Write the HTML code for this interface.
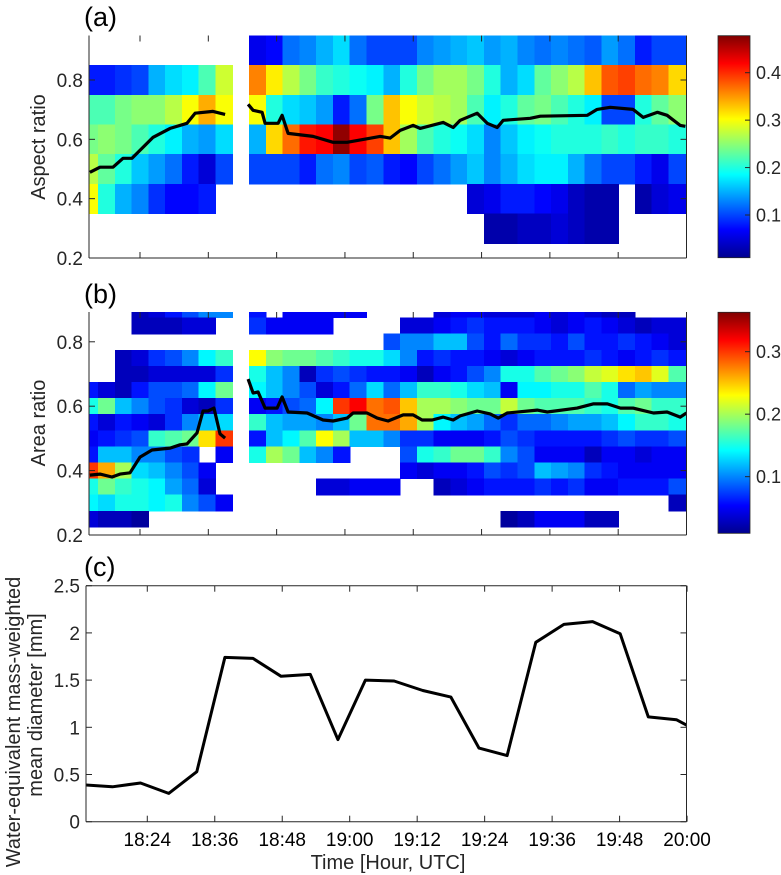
<!DOCTYPE html>
<html><head><meta charset="utf-8"><style>
html,body{margin:0;padding:0;background:#fff;}
svg{display:block;font-family:"Liberation Sans",Arial,sans-serif;}
</style></head><body>
<svg id="fig" width="781" height="875" viewBox="0 0 781 875">
<defs>
<linearGradient id="jet" x1="0" y1="1" x2="0" y2="0">
<stop offset="0" stop-color="#00008f"/><stop offset="0.125" stop-color="#0000ff"/><stop offset="0.375" stop-color="#00ffff"/><stop offset="0.625" stop-color="#ffff00"/><stop offset="0.875" stop-color="#ff0000"/><stop offset="1" stop-color="#800000"/>
</linearGradient>
<clipPath id="clipA"><rect x="89" y="35.5" width="597.5" height="222.5"/></clipPath>
<clipPath id="clipB"><rect x="89" y="312" width="597.5" height="223"/></clipPath>
<clipPath id="clipC"><rect x="86" y="585.7" width="600.5" height="236"/></clipPath>
</defs>
</svg>
<script>
// ---------- Data ----------
const binStart = 13.69, binWidth = 2.947; // minutes after 18:00
const rowsA = [0.9,0.8,0.7,0.6,0.5,0.4,0.3];
const N = null;
const heatA = [
[N,N,N,N,N,N,N,N,N,N,0.06,0.07,0.12,0.13,0.15,0.17,0.12,0.1,0.1,0.1,0.13,0.14,0.15,0.16,0.14,0.15,0.13,0.12,0.13,0.12,0.11,0.14,0.12,0.08,0.1,0.1],
[0.08,0.08,0.09,0.1,0.15,0.17,0.18,0.22,0.28,N,0.36,0.31,0.27,0.24,0.21,0.2,0.19,0.18,0.15,0.2,0.24,0.26,0.26,0.24,0.2,0.15,0.17,0.23,0.25,0.27,0.33,0.38,0.39,0.37,0.36,0.32],
[0.22,0.22,0.24,0.25,0.25,0.27,0.3,0.34,0.3,N,0.3,0.2,0.17,0.16,0.14,0.08,0.12,0.24,0.33,0.3,0.28,0.27,0.26,0.22,0.18,0.2,0.23,0.24,0.22,0.2,0.18,0.1,0.1,0.2,0.23,0.25],
[0.24,0.25,0.24,0.22,0.2,0.18,0.15,0.14,0.17,N,0.15,0.32,0.37,0.41,0.42,0.47,0.42,0.39,0.33,0.26,0.22,0.2,0.19,0.17,0.13,0.16,0.18,0.19,0.2,0.2,0.2,0.21,0.2,0.21,0.21,0.2],
[0.27,0.23,0.2,0.16,0.14,0.12,0.08,0.05,0.1,N,0.1,0.1,0.1,0.08,0.12,0.13,0.1,0.11,0.08,0.07,0.1,0.12,0.14,0.16,0.13,0.15,0.17,0.18,0.18,0.15,0.12,0.1,0.1,0.08,0.06,0.1],
[0.3,0.2,0.15,0.13,0.09,0.07,0.07,0.08,N,N,N,N,N,N,N,N,N,N,N,N,N,N,N,0.05,0.06,0.08,0.08,0.07,0.06,0.04,0.03,0.03,N,0.03,0.05,0.06],
[N,N,N,N,N,N,N,N,N,N,N,N,N,N,N,N,N,N,N,N,N,N,N,N,0.03,0.03,0.04,0.04,0.05,0.04,0.03,0.03,N,N,N,N]
];
const rowsB = [0.9,0.85,0.8,0.75,0.7,0.65,0.6,0.55,0.5,0.45,0.4,0.35,0.3,0.25,0.2];
const heatB = [
[N,N,N,0.03,0.04,0.06,0.08,0.1,0.1,N,0.06,N,0.05,0.05,0.05,0.05,0.05,N,N,N,N,0.04,0.05,0.05,0.04,0.04,0.04,0.05,0.04,0.05,0.04,0.03,0.03,N,N,N],
[N,N,N,0.03,0.03,0.03,0.04,0.04,N,N,0.07,0.05,0.05,0.05,0.05,N,N,N,N,0.04,0.04,0.05,0.06,0.07,0.06,0.06,0.06,0.05,0.04,0.05,0.06,0.05,0.04,0.03,0.04,0.04],
[N,N,N,N,N,N,N,N,N,N,N,N,N,N,N,N,N,N,0.08,0.1,0.1,0.12,0.12,0.08,0.06,0.09,0.07,0.07,0.06,0.08,0.06,0.06,0.07,0.06,0.05,0.04],
[N,N,0.03,0.04,0.07,0.08,0.1,0.14,0.16,N,0.23,0.19,0.18,0.18,0.17,0.16,0.15,0.15,0.13,0.1,0.06,0.07,0.06,0.06,0.05,0.04,0.05,0.06,0.06,0.06,0.07,0.06,0.05,0.06,0.07,0.06],
[N,N,0.03,0.03,0.04,0.04,0.04,0.04,0.07,N,0.15,0.12,0.1,0.03,0.07,0.08,0.07,0.06,0.06,0.05,0.03,0.05,0.06,0.08,0.1,0.15,0.15,0.17,0.18,0.19,0.21,0.22,0.24,0.25,0.22,0.17],
[0.06,0.04,0.03,0.06,0.08,0.08,0.09,0.14,0.18,N,0.14,0.12,0.1,0.08,0.04,0.06,0.09,0.13,0.09,0.12,0.16,0.16,0.15,0.13,0.12,0.05,0.14,0.14,0.15,0.15,0.17,0.15,0.09,0.11,0.1,0.1],
[0.15,0.18,0.12,0.1,0.08,0.07,0.04,0.03,0.07,N,0.05,0.06,0.08,0.09,0.14,0.3,0.32,0.28,0.29,0.25,0.2,0.2,0.19,0.18,0.18,0.21,0.18,0.17,0.17,0.17,0.16,0.15,0.17,0.18,0.16,0.16],
[0.06,0.04,0.06,0.05,0.04,0.07,0.1,0.12,0.13,N,0.16,0.12,0.11,0.11,0.1,0.12,0.18,0.28,0.28,0.26,0.2,0.14,0.12,0.11,0.09,0.07,0.09,0.09,0.1,0.11,0.11,0.12,0.14,0.16,0.16,0.15],
[0.05,0.06,0.07,0.08,0.16,0.17,0.18,0.24,0.3,N,0.06,0.12,0.14,0.17,0.23,0.2,0.12,0.12,0.1,0.07,0.07,0.05,0.05,0.05,0.06,0.08,0.07,0.06,0.06,0.06,0.06,0.07,0.08,0.07,0.07,0.08],
[0.06,0.12,0.12,0.1,0.1,0.08,0.07,N,0.05,N,0.15,0.2,0.18,0.12,0.1,0.06,N,N,N,0.08,0.15,0.16,0.18,0.18,0.16,0.1,0.08,0.05,0.05,0.05,0.03,0.05,0.05,0.04,0.05,0.05],
[0.3,0.26,0.2,0.13,0.12,0.1,0.08,0.05,N,N,N,N,N,N,N,N,N,N,N,0.05,0.04,0.05,0.05,0.06,0.08,0.07,0.08,0.12,0.11,0.1,0.07,0.06,0.05,0.05,0.05,0.05],
[0.15,0.18,0.16,0.15,0.14,0.11,0.09,0.04,N,N,N,N,N,N,0.04,0.04,0.05,0.05,0.05,N,N,0.03,0.04,0.05,0.06,0.06,0.06,0.07,0.06,0.07,0.05,0.05,0.06,0.06,0.06,0.08],
[0.14,0.13,0.15,0.15,0.14,0.15,0.1,0.08,0.05,N,N,N,N,N,N,N,N,N,N,N,N,N,N,N,N,N,N,N,N,N,N,N,N,N,N,0.03],
[0.04,0.03,0.03,0.02,N,N,N,N,N,N,N,N,N,N,N,N,N,N,N,N,N,N,N,N,N,0.02,0.03,0.05,0.05,0.05,0.03,0.03,N,N,N,N],
[N,N,N,N,N,N,N,N,N,N,N,N,N,N,N,N,N,N,N,N,N,N,N,N,N,N,N,N,N,N,N,N,N,N,N,N]
];
const lineATimes = [15.2,16.97,19.26,21.02,22.6,26.3,29.28,32.26,33.67,36.83,38.94,40.5,42.98,43.86,45.44,45.97,48.25,48.96,50.01,54.41,57.92,60.38,66.18,67.94,69.7,71.98,73.21,77.26,79.01,80.24,83.23,84.99,86.75,87.8,92.55,94.31,102.6,104.3,106.6,110.6,112.4,114.9,116.6,118.9,119.8];
const lineAVals = [0.489,0.506,0.506,0.536,0.536,0.607,0.637,0.654,0.688,0.694,0.684,null,0.718,0.698,0.691,0.654,0.654,0.681,0.62,0.61,0.59,0.59,0.61,0.604,0.63,0.647,0.637,0.657,0.64,0.664,0.688,0.654,0.64,0.664,0.671,0.678,0.681,0.701,0.708,0.701,0.674,0.691,0.681,0.647,0.644];
const lineBTimes = [15.2,16.97,19.08,20.49,22.25,24.0,26.11,29.28,31.03,32.26,34.02,35.06,35.95,37.0,38.06,38.94,40.5,42.98,43.86,44.74,45.97,48.08,48.96,50.01,53.35,56.16,57.92,60.38,61.44,63.9,65.66,67.59,70.23,71.98,73.56,75.32,77.26,79.01,80.24,83.23,85.52,86.93,88.51,93.78,95.54,100.8,103.6,106.1,108.4,110.6,114.2,116.6,118.9,120.0];
const lineBVals = [0.386,0.389,0.38,0.389,0.393,0.442,0.464,0.47,0.48,0.483,0.517,0.585,0.585,0.594,0.514,0.501,null,0.684,0.641,0.644,0.594,0.594,0.629,0.582,0.579,0.557,0.554,0.563,0.579,0.579,0.563,0.554,0.573,0.573,0.557,0.557,0.566,0.557,0.57,0.585,0.576,0.563,0.579,0.588,0.582,0.594,0.607,0.607,0.594,0.594,0.579,0.582,0.566,0.579];
const lineCTimes = [13.0,17.8,22.8,27.8,32.8,37.8,42.8,47.8,53.0,57.9,62.8,67.9,73.0,78.0,83.0,88.0,93.1,98.1,103.2,108.1,113.1,118.1,120.0];
const lineCVals = [0.39,0.37,0.41,0.30,0.53,1.74,1.73,1.54,1.56,0.87,1.50,1.49,1.39,1.32,0.78,0.70,1.90,2.09,2.12,1.99,1.11,1.08,1.02];
const xTickTimes = [24,36,48,60,72,84,96,108,120];
const xTickLabels = ["18:24","18:36","18:48","19:00","19:12","19:24","19:36","19:48","20:00"];
const yTicksA = [0.2,0.4,0.6,0.8];
const yTicksB = [0.2,0.4,0.6,0.8];
const yTicksC = [0,0.5,1,1.5,2,2.5];
const yTickLabelsC = ["0","0.5","1","1.5","2","2.5"];
const cbTicksA = [0.1,0.2,0.3,0.4];
const cbTicksB = [0.1,0.2,0.3];

// ---------- Helpers ----------
const svg = document.getElementById('fig');
const NS = 'http://www.w3.org/2000/svg';
function mk(tag, attrs, parent){ const e=document.createElementNS(NS,tag); for(const k in attrs) e.setAttribute(k,attrs[k]); (parent||svg).appendChild(e); return e; }
function lin(d0,d1,r0,r1){ return v => r0 + (v-d0)/(d1-d0)*(r1-r0); }
function jet(v){ const c=x=>Math.max(0,Math.min(1,x)); const r=c(1.5-Math.abs(4*v-3)), g=c(1.5-Math.abs(4*v-2)), b=c(1.5-Math.abs(4*v-1)); return `rgb(${Math.round(r*255)},${Math.round(g*255)},${Math.round(b*255)})`; }
const AX = '#262626';

const xAB = lin(15.04,120,89,686.5);
const xC = lin(13.1,119.9,86,686.5);
const yA = lin(0.2,0.95,258,35.5);
const yB = lin(0.2,0.8925,535,312);
const yC = lin(0,2.5,821.7,585.7);

function heatmap(name, rows, mat, half, ys, clip, cmin, cmax){
  const g = mk('g',{'clip-path':`url(#${clip})`,'shape-rendering':'crispEdges'});
  
  
  rows.forEach((rv,ri)=>{
    mat[ri].forEach((v,k)=>{
      if(v===null) return;
      const x1=xAB(binStart+k*binWidth), x2=xAB(binStart+(k+1)*binWidth);
      const y1=ys(rv+half), y2=ys(rv-half);
      const r = mk('rect',{x:x1,y:y1,width:x2-x1+0.6,height:y2-y1+0.6,fill:jet((v-cmin)/(cmax-cmin))},g);
      
      
    });
  });
}
function line(name, times, vals, xs, ys, clip, w){
  let d='', pen=false;
  times.forEach((t,i)=>{ const v=vals[i]; if(v===null){pen=false;return;} d += (pen?'L':'M')+xs(t).toFixed(1)+','+ys(v).toFixed(1); pen=true; });
  const p = mk('path',{d:d,fill:'none',stroke:'#000','stroke-width':w,'stroke-linejoin':'round','clip-path':`url(#${clip})`});
  
  
}
function text(str,x,y,attrs,name){
  const t = mk('text',Object.assign({x:x,y:y,fill:'#000','font-size':19},attrs||{}));
  t.textContent=str;
  
  
  return t;
}
function axes(name, x0,x1,y0,y1, xs, ys, yticks, ylabels, fullBox, showXLabels){
  const g = mk('g',{stroke:AX,'stroke-width':1,fill:'none'});
  
  
  mk('line',{x1:x0,y1:y1,x2:x1,y2:y1},g);
  mk('line',{x1:x0,y1:y0,x2:x0,y2:y1},g);
  mk('line',{x1:x1,y1:y0,x2:x1,y2:y1},g);
  if(fullBox) mk('line',{x1:x0,y1:y0,x2:x1,y2:y0},g);
  xTickTimes.forEach((t,i)=>{
    const x=xs(t);
    mk('line',{x1:x,y1:y1,x2:x,y2:y1-6},g);
    mk('line',{x1:x,y1:y0,x2:x,y2:y0+6},g);
    if(showXLabels) text(xTickLabels[i],x,846,{'text-anchor':'middle','font-size':19},'x-tick-label');
  });
  yticks.forEach((v,i)=>{
    const y=ys(v);
    mk('line',{x1:x0,y1:y,x2:x0+6,y2:y},g);
    mk('line',{x1:x1,y1:y,x2:x1-6,y2:y},g);
    text(ylabels[i],x0-6,y+7,{'text-anchor':'end','font-size':19,fill:'#262626'},'y-tick-label');
  });
}
function colorbar(name, y0,y1,cmin,cmax,ticks){
  const g = mk('g',{});
  
  
  mk('rect',{x:718,y:y0,width:32,height:y1-y0,fill:'url(#jet)',stroke:AX,'stroke-width':0.8},g);
  const s = lin(cmin,cmax,y1,y0);
  ticks.forEach(v=>{
    mk('line',{x1:750,y1:s(v),x2:745,y2:s(v),stroke:AX},g);
    text(String(v),756,s(v)+6.5,{'font-size':18,fill:'#262626'},'colorbar-tick-label');
  });
}

// ---------- Panel (a) ----------
heatmap('aspect-ratio-heatmap', rowsA, heatA, 0.05, yA, 'clipA', 0.01, 0.478);
line('aspect-ratio-median-line', lineATimes, lineAVals, xAB, yA, 'clipA', 3.2);
axes('axes-a', 89,686.5,35.5,258, xAB, yA, yTicksA, ["0.2","0.4","0.6","0.8"], false, false);
colorbar('colorbar-a', 35.7,257.7,0.01,0.478,cbTicksA);
text('(a)',84,26,{'font-size':27},'panel-label-a');
text('Aspect ratio',0,0,{'font-size':20,'text-anchor':'middle',fill:'#262626',transform:'translate(45,147) rotate(-90)'},'y-axis-title-a');

// ---------- Panel (b) ----------
heatmap('area-ratio-heatmap', rowsB, heatB, 0.025, yB, 'clipB', 0.0094, 0.363);
line('area-ratio-median-line', lineBTimes, lineBVals, xAB, yB, 'clipB', 3.2);
axes('axes-b', 89,686.5,312,535, xAB, yB, yTicksB, ["0.2","0.4","0.6","0.8"], false, false);
colorbar('colorbar-b', 312.3,533.3,0.0094,0.363,cbTicksB);
text('(b)',84,303,{'font-size':27},'panel-label-b');
text('Area ratio',0,0,{'font-size':20,'text-anchor':'middle',fill:'#262626',transform:'translate(45,423) rotate(-90)'},'y-axis-title-b');

// ---------- Panel (c) ----------
line('mass-weighted-diameter-line', lineCTimes, lineCVals, xC, yC, 'clipC', 3);
axes('axes-c', 86,686.5,585.7,821.7, xC, yC, yTicksC, yTickLabelsC, true, true);
text('(c)',84,576,{'font-size':27},'panel-label-c');
text('Water-equivalent mass-weighted',0,0,{'font-size':20,'text-anchor':'middle',fill:'#262626',transform:'translate(20,722) rotate(-90)'},'y-axis-title-c-line1');
text('mean diameter [mm]',0,0,{'font-size':20,'text-anchor':'middle',fill:'#262626',transform:'translate(42,705) rotate(-90)'},'y-axis-title-c-line2');
text('Time [Hour, UTC]',388,869,{'font-size':20,'text-anchor':'middle',fill:'#262626'},'x-axis-title');
</script>
</body></html>
